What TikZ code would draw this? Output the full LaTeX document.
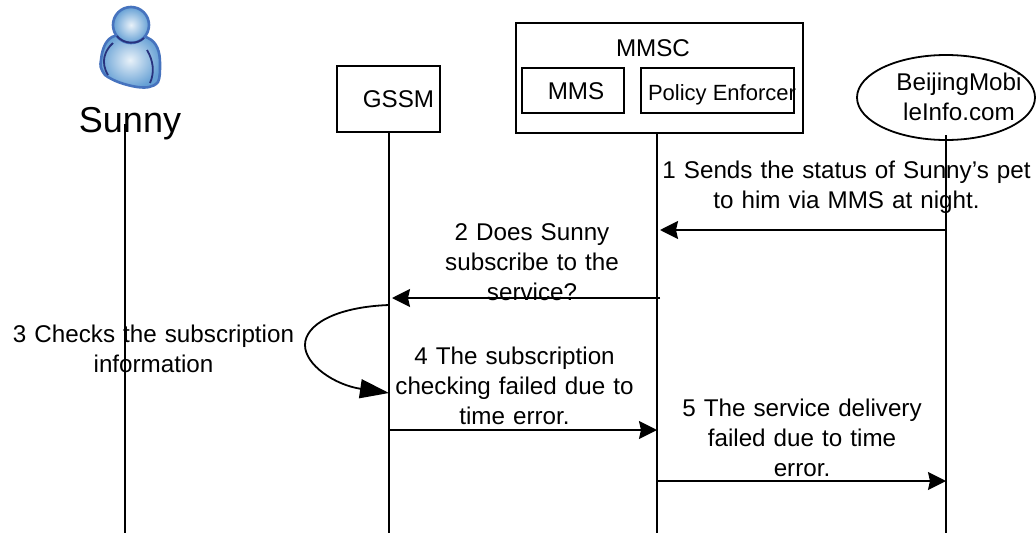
\documentclass[tikz,border=0pt]{standalone}
\usepackage{fontspec}
\setmainfont{Liberation Sans}
\usepackage{tikz}
\usetikzlibrary{arrows.meta,positioning,calc,shapes.geometric}
\tikzset{edge/.style = {
    line width=1.8pt,
    -{Stealth[length=18pt,width=18pt,inset=2pt]},
  }
}
\definecolor{personblue}{RGB}{70,115,190}
\definecolor{persondark}{RGB}{40,50,125}
\definecolor{personfill}{RGB}{105,165,215}

\begin{document}
\begin{tikzpicture}[x=1pt, y=-1pt, font=\fontsize{24.2}{30}\selectfont]
          \useasboundingbox (0,0) rectangle (1036,533);
          % vertices
          \tikzstyle{box} = [rectangle, draw, line width=1.8pt, inner sep=0pt, text centered]
          \tikzstyle{label} = [inner sep=0pt, text centered]
          \tikzstyle{lifeline} = [line width=1.8pt]
          \tikzstyle{personbody} = [personblue, line width=2.6pt, inner color=white!85!personfill, outer color=personfill!90!personblue]
          \tikzstyle{personline} = [persondark, line width=1.8pt]

          \node[box, minimum width=287pt, minimum height=110pt] (mmsc) at (659.5,78) {};
          \node[label] (mmsclabel) at (653,48) {MMSC};
          \node[box, minimum width=102pt, minimum height=45pt] (mms) at (573,90.5) {};
          \node[label] (mmslabel) at (576,91) {MMS};
          \node[box, minimum width=153pt, minimum height=45pt] (enforcer) at (717.5,90.5) {};
          \node[label, font=\fontsize{22}{24}\selectfont] (enforcerlabel) at (722,95) {Policy Enforcer};
          \node[box, minimum width=103pt, minimum height=66pt] (gssm) at (388.5,99) {};
          \node[label] (gssmlabel) at (398.5,99) {GSSM};
          \node[ellipse, draw, line width=1.8pt, minimum width=178pt, minimum height=85pt, inner sep=0pt] (bmi) at (946,97.5) {};
          \node[label, text width=140pt] (bmilabel) at (959,97) {BeijingMobi\\leInfo.com};
          \node[label, font=\fontsize{36}{40}\selectfont] (sunny) at (130,124) {Sunny};

          % person
          \draw[personbody]
            (112,37) .. controls (122,32) and (140,33) .. (148,38)
            .. controls (157,42) and (160,52) .. (160,63) .. controls (160,72) and (160,78) .. (158,82)
            .. controls (153,88) and (145,88) .. (137,87) .. controls (125,85) and (113,81) .. (105,75)
            .. controls (100,68) and (100,66) .. (101,60) .. controls (102,50) and (105,41) .. (112,37) -- cycle;
          \draw[personline] (113,43) .. controls (105,50) and (100,62) .. (108,75);
          \draw[personline] (147,50) .. controls (153,60) and (155,72) .. (150,83);
          \draw[personbody] (131,25) circle [radius=18];
          \draw[personline] (117,36) .. controls (123,44) and (137,45) .. (144,38);

          % lifelines
          \coordinate (sunnystart) at (125,124);
          \coordinate (sunnyend) at (125,533);
          \coordinate (gssmend) at (389,533);
          \coordinate (mmscend) at (657,533);
          \coordinate (bmistart) at (946,135);
          \coordinate (bmiend) at (946,533);
          \draw[lifeline] (sunnystart) -- (sunnyend);
          \draw[lifeline] (gssmend |- gssm.south) -- (gssmend);
          \draw[lifeline] (mmscend |- mmsc.south) -- (mmscend);
          \draw[lifeline] (bmistart) -- (bmiend);

          % messages
          \coordinate (m1a) at (946,230);
          \coordinate (m1b) at (660,230);
          \coordinate (m2a) at (660,298);
          \coordinate (m2b) at (392,298);
          \coordinate (m3a) at (389,305);
          \coordinate (m3b) at (389,393);
          \coordinate (m4a) at (389,430);
          \coordinate (m4b) at (657,430);
          \coordinate (m5a) at (657,481);
          \coordinate (m5b) at (946,481);
          \draw[edge] (m1a) -- (m1b);
          \draw[edge] (m2a) -- (m2b);
          \draw[line width=1.8pt, -{Stealth[length=29pt,width=19pt,inset=0pt]}] (m3a) .. controls (335,307) and (305,325) .. (305,345) .. controls (305,365) and (335,385) .. (m3b);
          \draw[edge] (m4a) -- (m4b);
          \draw[edge] (m5a) -- (m5b);

          \node[label, text width=380pt] (t1) at (846.5,187) {1 Sends the status of Sunny’s pet\\to him via MMS at night.};
          \node[label, text width=230pt] (t2) at (532,262) {2 Does Sunny\\subscribe to the\\service?};
          \node[label, text width=310pt] (t3) at (153.5,349) {3 Checks the subscription\\information};
          \node[label, text width=260pt] (t4) at (514.5,386) {4 The subscription\\checking failed due to\\time error.};
          \node[label, text width=260pt] (t5) at (802,438) {5 The service delivery\\failed due to time\\error.};
        \end{tikzpicture}
\end{document}
